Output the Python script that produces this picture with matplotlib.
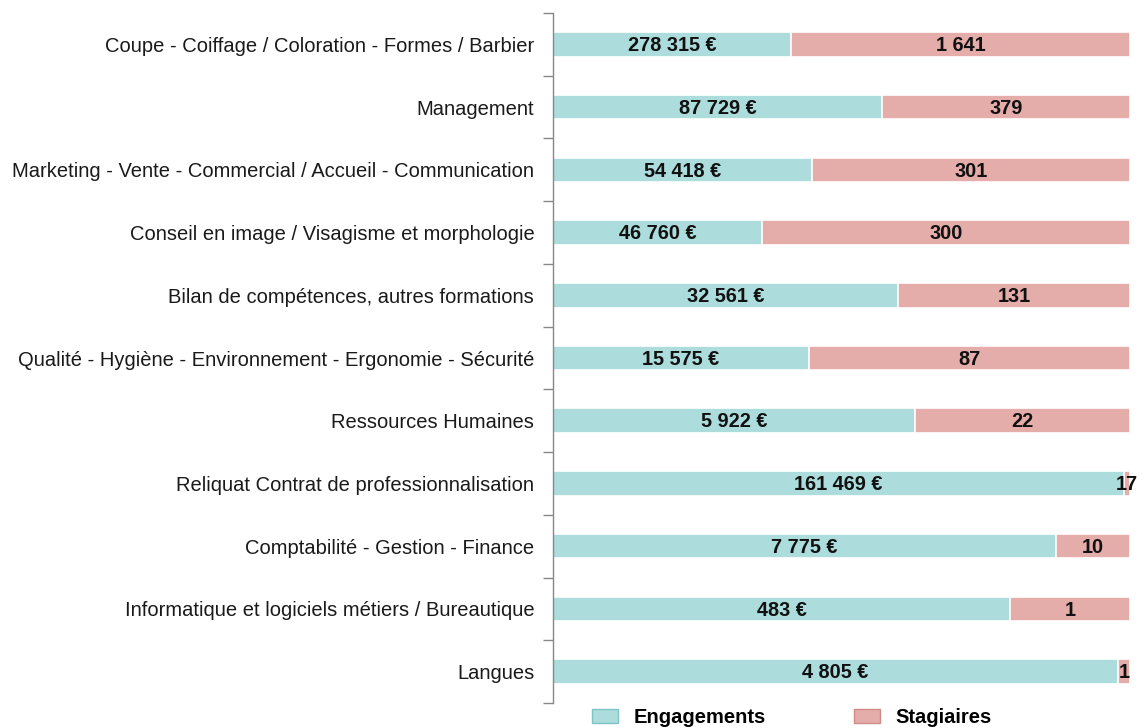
import matplotlib
matplotlib.use("Agg")
import matplotlib.pyplot as plt
from matplotlib.patches import Patch
import numpy as np

plt.rcParams['font.family'] = ['Liberation Sans', 'DejaVu Sans']

categories = [
    "Coupe - Coiffage / Coloration - Formes / Barbier",
    "Management",
    "Marketing - Vente - Commercial / Accueil - Communication",
    "Conseil en image / Visagisme et morphologie",
    "Bilan de compétences, autres formations",
    "Qualité - Hygiène - Environnement - Ergonomie - Sécurité",
    "Ressources Humaines",
    "Reliquat Contrat de professionnalisation",
    "Comptabilité - Gestion - Finance",
    "Informatique et logiciels métiers / Bureautique",
    "Langues",
]
engagements = [278315, 87729, 54418, 46760, 32561, 15575, 5922, 161469, 7775, 483, 4805]
stagiaires = [1641, 379, 301, 300, 131, 87, 22, 17, 10, 1, 1]
# share of each row (in %) held by the "Engagements" segment
part_engagements = [41.2, 57.0, 44.9, 36.2, 59.8, 44.3, 62.7, 99.0, 87.2, 79.2, 97.9]

teal = "#acdcdc"
pink = "#e4adaa"

def fmt_euro(v):
    return f"{v:,}".replace(",", " ") + " €"

fig = plt.figure(figsize=(11.44, 7.28), dpi=100)
ax = fig.add_axes([553 / 1144, 1 - 703 / 728, 577 / 1144, 690 / 728])

y = np.arange(len(categories))
eng = np.array(part_engagements)
sta = 100 - eng

ax.barh(y, eng, height=0.39, color=teal, edgecolor="white", linewidth=1.2)
ax.barh(y, sta, left=eng, height=0.39, color=pink, edgecolor="white", linewidth=1.2)

for i in range(len(categories)):
    ax.text(eng[i] / 2, y[i] + 0.02, fmt_euro(engagements[i]), ha="center", va="center",
            fontsize=14.3, fontweight="bold", color="#111111")
    ax.text(eng[i] + sta[i] / 2, y[i] + 0.02, f"{stagiaires[i]:,}".replace(",", " "),
            ha="center", va="center", fontsize=14.3, fontweight="bold",
            color="#111111", clip_on=False)

ax.set_xlim(0, 100)
ax.set_ylim(len(categories) - 0.5, -0.5)
ax.set_yticks(y)
ax.set_yticklabels(categories, fontsize=14.5, color="#1a1a1a")
ax.tick_params(axis="y", which="major", length=0, pad=13.5)
ax.set_yticks(np.arange(-0.5, len(categories), 1.0), minor=True)
ax.tick_params(axis="y", which="minor", length=7, width=1, color="#888888")
ax.set_xticks([])

for s in ["top", "right", "bottom"]:
    ax.spines[s].set_visible(False)
ax.spines["left"].set_color("#888888")
ax.spines["left"].set_linewidth(1)

handles = [
    Patch(facecolor=teal, edgecolor="#7fc4c4", label="Engagements"),
    Patch(facecolor=pink, edgecolor="#d08a87", label="Stagiaires"),
]
leg = fig.legend(handles=handles, loc="lower left", bbox_to_anchor=(574 / 1144, -0.023),
                 ncol=2, frameon=False, prop={"weight": "bold", "size": 14.5},
                 handlelength=1.3, handleheight=0.7, columnspacing=4.4, handletextpad=0.75)

fig.savefig("out.png", dpi=100, facecolor="white")
